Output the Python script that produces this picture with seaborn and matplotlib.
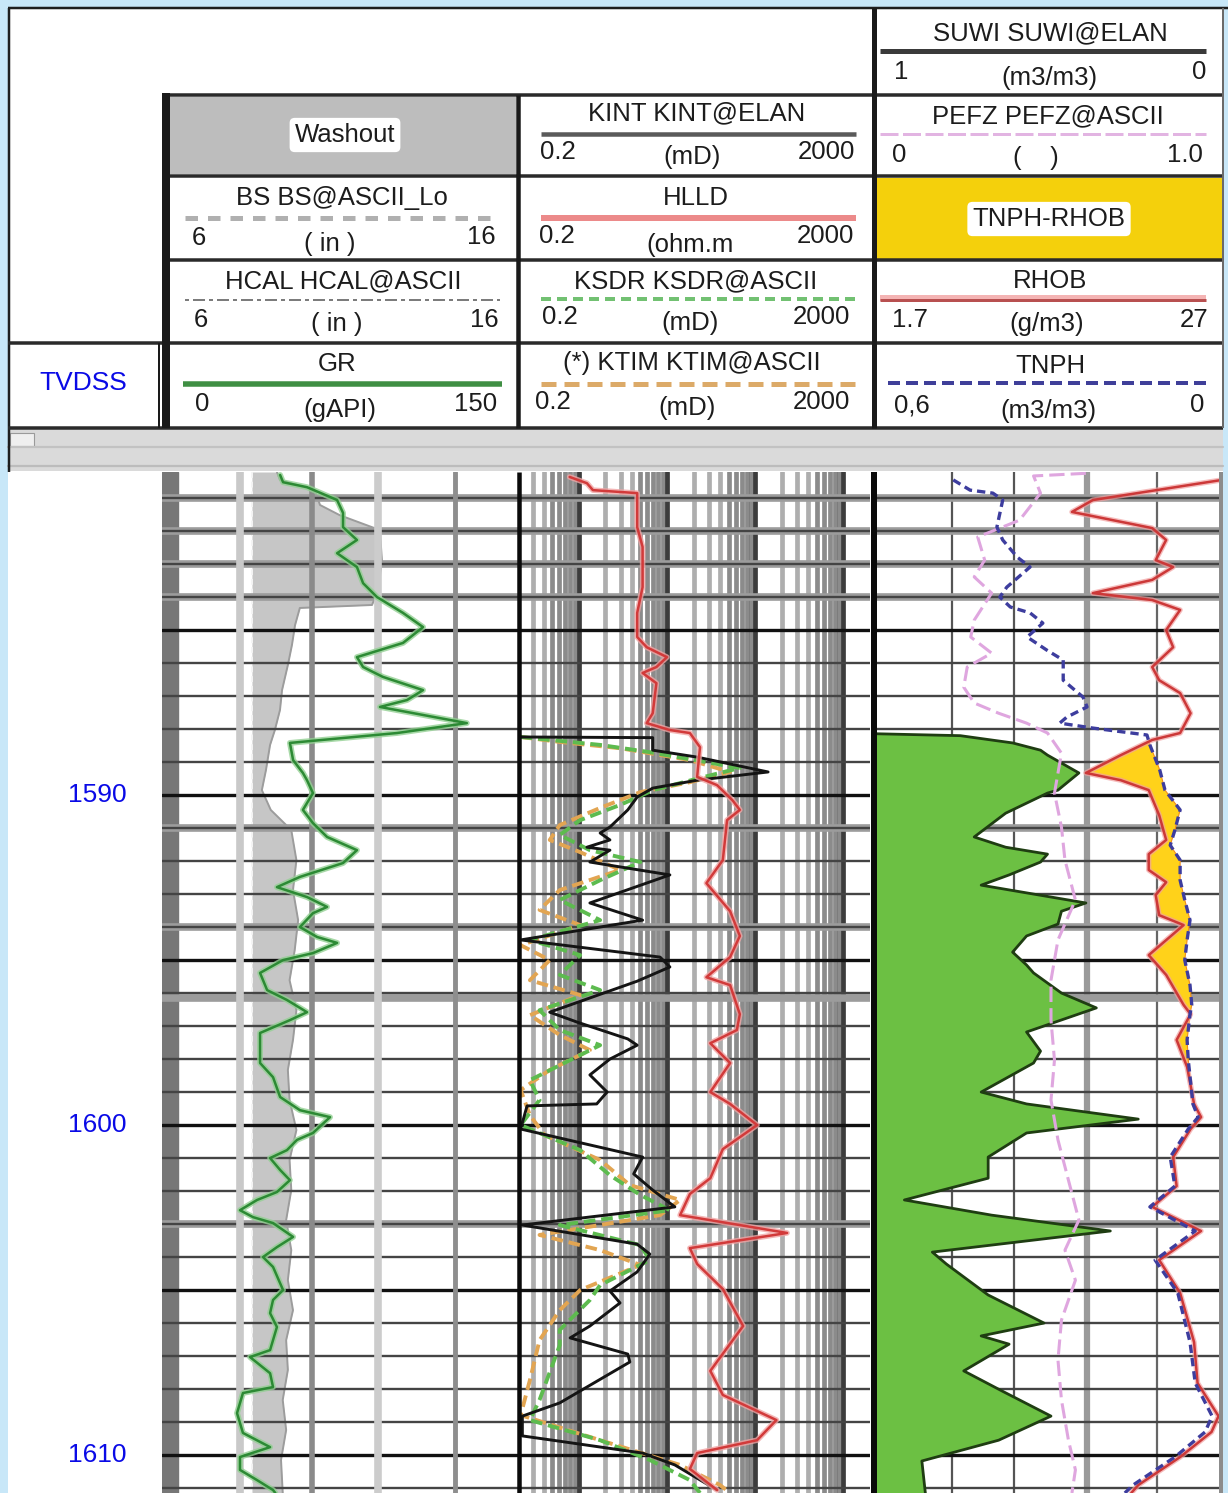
import numpy as np
import matplotlib
matplotlib.use("Agg")
import matplotlib.pyplot as plt
from matplotlib.patches import Rectangle
import seaborn as sns

sns.set_style("white")
plt.rcParams["font.family"] = ["Liberation Sans", "DejaVu Sans"]

# ---------------------------------------------------------------- data
TOP_DEPTH, BASE_DEPTH = 1580.21, 1611.15
depth_labels = [1590, 1600, 1610]

# Track 1 : gamma ray (gAPI), caliper / bit size (in)
gr_depth = [1580.30, 1580.52, 1580.67, 1581.06, 1581.45, 1581.88, 1582.27, 1582.67, 1583.09, 1583.58,
            1584.00, 1584.48, 1584.91, 1585.39, 1585.82, 1586.12, 1586.42, 1586.82, 1587.12, 1587.33,
            1587.82, 1588.12, 1588.42, 1588.94, 1589.33, 1589.55, 1589.94, 1590.45, 1590.85, 1591.27,
            1591.67, 1592.06, 1592.48, 1592.79, 1593.09, 1593.39, 1593.58, 1594.00, 1594.30, 1594.48,
            1594.79, 1595.00, 1595.39, 1595.91, 1596.21, 1596.58, 1596.82, 1597.21, 1598.12, 1598.55,
            1599.15, 1599.55, 1599.76, 1600.24, 1600.45, 1600.76, 1601.00, 1601.36, 1601.67, 1602.03,
            1602.27, 1602.58, 1602.79, 1602.97, 1603.39, 1603.70, 1604.00, 1604.30, 1605.00, 1605.30,
            1605.70, 1606.12, 1606.82, 1607.03, 1607.52, 1607.94, 1608.12, 1608.73, 1609.33, 1609.76,
            1610.06, 1610.45, 1610.76, 1611.06, 1611.15]
gr_api = [46.1, 47.4, 57.9, 71.1, 73.7, 73.7, 79.8, 71.1, 79.8, 82.5,
          88.6, 100.0, 108.8, 100.0, 79.8, 82.5, 91.2, 108.8, 101.8, 89.9,
          128.0, 97.4, 50.4, 51.8, 56.1, 57.9, 60.5, 56.1, 60.5, 66.7,
          79.8, 73.7, 54.8, 44.7, 57.9, 66.7, 60.5, 54.8, 62.3, 71.1,
          60.5, 47.4, 37.3, 40.4, 49.1, 57.9, 50.4, 37.3, 37.3, 43.0,
          46.1, 54.8, 68.0, 60.5, 53.5, 49.1, 41.7, 46.1, 50.4, 44.7,
          36.0, 28.5, 34.2, 43.0, 51.8, 44.7, 38.6, 43.0, 47.4, 43.0,
          41.7, 44.7, 41.7, 32.9, 41.7, 43.0, 29.8, 27.2, 29.8, 41.7,
          28.5, 28.5, 36.0, 43.0, 44.0]

cal_depth = [1580.21, 1580.45, 1580.76, 1581.21, 1581.52, 1581.97, 1582.88, 1583.79, 1584.24, 1584.33,
             1584.85, 1585.45, 1586.06, 1586.82, 1587.42, 1588.03, 1588.48, 1589.24, 1589.85, 1590.45,
             1591.06, 1591.97, 1592.88, 1593.79, 1594.70, 1595.61, 1596.52, 1597.42, 1598.33, 1599.24,
             1600.15, 1601.06, 1601.97, 1602.88, 1603.79, 1604.70, 1605.61, 1606.52, 1607.42, 1608.33,
             1609.24, 1610.15, 1611.15]
hcal_in = [8.98, 9.07, 10.09, 10.24, 10.82, 11.99, 12.05, 11.94, 11.76, 9.65,
           9.51, 9.42, 9.30, 9.13, 9.07, 8.92, 8.78, 8.66, 8.54, 8.80,
           9.40, 9.55, 9.45, 9.60, 9.50, 9.35, 9.55, 9.45, 9.30, 9.35,
           9.55, 9.35, 9.40, 9.25, 9.40, 9.30, 9.45, 9.25, 9.30, 9.15,
           9.25, 9.10, 9.15]
bs_in = 8.25

# Track 2 : resistivity (ohm.m) and permeabilities (mD), log scale
hlld_depth = [1580.36, 1580.55, 1580.76, 1580.85, 1581.88, 1582.48, 1583.70, 1584.48, 1585.21, 1585.52,
              1585.82, 1586.12, 1586.30, 1586.61, 1587.52, 1587.82, 1588.03, 1588.12, 1588.55, 1589.45,
              1589.70, 1590.15, 1590.45, 1590.76, 1591.97, 1592.67, 1593.52, 1594.27, 1594.91, 1595.52,
              1595.76, 1596.64, 1597.12, 1597.52, 1598.12, 1599.00, 1599.36, 1600.00, 1600.73, 1601.61,
              1602.09, 1602.73, 1603.27, 1603.73, 1604.21, 1604.97, 1606.09, 1607.45, 1608.18, 1608.94,
              1609.55, 1609.94, 1610.42, 1611.06]
hlld_ohmm = [0.79, 1.24, 1.45, 4.6, 4.6, 5.3, 5.3, 4.6, 4.6, 5.9,
             10.0, 7.6, 5.3, 7.6, 6.9, 5.9, 10.8, 18.2, 23.7, 22.0,
             37.0, 55.0, 67.0, 48.0, 43.0, 28.0, 52.0, 67.0, 52.0, 28.0,
             52.0, 67.0, 62.0, 31.0, 52.0, 31.0, 52.0, 105.0, 43.0, 31.0,
             18.2, 14.1, 230.0, 18.2, 22.0, 43.0, 73.0, 31.0, 43.0, 174.0,
             105.0, 22.0, 18.2, 37.0]

kint_depth = [1588.24, 1588.26, 1588.64, 1588.85, 1589.30, 1589.55, 1589.79, 1590.06, 1590.45, 1590.97,
              1591.15, 1591.36, 1591.58, 1591.67, 1592.03, 1592.42, 1593.27, 1593.79, 1594.39, 1594.91,
              1595.21, 1595.64, 1596.58, 1596.88, 1597.39, 1597.58, 1598.00, 1598.48, 1599.00, 1599.36,
              1599.42, 1600.12, 1600.97, 1601.48, 1601.97, 1602.48, 1603.03, 1603.61, 1603.91, 1604.45,
              1605.03, 1605.39, 1606.09, 1606.45, 1606.94, 1607.18, 1608.42, 1608.82, 1609.42, 1609.94,
              1610.30, 1611.06]
kint_md = [0.22, 6.9, 6.9, 22.0, 140.0, 22.0, 6.9, 4.6, 3.6, 2.26,
           1.75, 2.26, 1.24, 2.26, 1.34, 10.8, 1.34, 5.3, 0.22, 8.35,
           10.8, 4.6, 0.47, 0.96, 3.6, 4.6, 2.26, 1.34, 2.1, 1.6,
           0.26, 0.22, 5.3, 4.2, 6.9, 12.3, 0.23, 4.6, 6.4, 4.6,
           2.26, 2.94, 1.34, 0.80, 3.6, 3.8, 0.61, 0.23, 0.23, 5.3,
           12.3, 37.0]

ksdr_depth = [1588.24, 1588.48, 1588.70, 1589.18, 1589.48, 1589.85, 1590.30, 1590.76, 1591.21, 1591.67,
              1592.03, 1592.58, 1593.18, 1593.79, 1594.39, 1594.85, 1595.45, 1595.91, 1596.52, 1597.12,
              1597.58, 1598.03, 1598.64, 1599.24, 1600.00, 1600.76, 1601.52, 1602.12, 1602.58, 1603.03,
              1603.64, 1604.09, 1604.85, 1605.30, 1606.21, 1606.67, 1608.33, 1608.94, 1609.55, 1610.15,
              1610.76, 1611.15]
ksdr_md = [0.22, 1.75, 6.4, 67.0, 23.7, 7.0, 2.94, 1.04, 0.61, 1.34,
           5.0, 1.75, 0.61, 1.75, 0.28, 1.04, 0.61, 1.75, 0.36, 0.61,
           1.75, 0.80, 0.28, 0.36, 0.22, 1.04, 2.26, 5.0, 10.8, 0.61,
           5.0, 6.4, 1.75, 1.34, 0.61, 0.61, 0.36, 0.28, 1.75, 6.4,
           18.2, 23.7]

ktim_depth = [1588.24, 1588.39, 1588.58, 1588.94, 1589.30, 1589.61, 1589.91, 1590.39, 1590.91, 1591.36,
              1591.73, 1592.27, 1592.88, 1593.48, 1593.94, 1594.55, 1595.00, 1595.61, 1596.06, 1596.67,
              1597.27, 1597.73, 1598.33, 1598.94, 1599.70, 1600.30, 1601.06, 1601.82, 1602.27, 1602.73,
              1603.33, 1603.79, 1604.24, 1605.00, 1605.61, 1606.52, 1607.73, 1608.79, 1609.55, 1610.30,
              1610.91, 1611.15]
ktim_md = [0.22, 0.61, 2.94, 18.2, 52.0, 18.2, 5.0, 1.75, 0.61, 0.47,
           1.04, 2.94, 0.61, 0.36, 1.04, 0.22, 0.47, 0.28, 1.04, 0.28,
           0.61, 1.34, 0.47, 0.22, 0.28, 0.41, 1.75, 3.8, 14.1, 8.35,
           0.36, 1.75, 5.0, 1.04, 0.61, 0.36, 0.28, 0.22, 1.75, 14.1,
           40.0, 52.0]

# Track 3 : water saturation, density, neutron, PEF
suwi_depth = [1588.14, 1588.20, 1588.42, 1588.64, 1588.79, 1589.33, 1589.85, 1589.94, 1590.55, 1591.27,
              1591.58, 1591.79, 1592.03, 1592.42, 1592.73, 1593.27, 1593.52, 1593.91, 1594.27, 1594.76,
              1595.15, 1595.39, 1596.00, 1596.45, 1597.18, 1597.76, 1598.12, 1599.00, 1599.36, 1599.82,
              1600.24, 1600.97, 1601.61, 1602.27, 1602.73, 1603.21, 1603.85, 1604.21, 1605.15, 1606.00,
              1606.39, 1606.64, 1607.45, 1608.06, 1608.82, 1609.55, 1610.18, 1611.15]
suwi_frac = [1.00, 0.75, 0.60, 0.52, 0.50, 0.41, 0.47, 0.50, 0.62, 0.71,
             0.62, 0.50, 0.52, 0.61, 0.69, 0.39, 0.46, 0.47, 0.56, 0.60,
             0.56, 0.54, 0.46, 0.36, 0.56, 0.52, 0.54, 0.69, 0.56, 0.24,
             0.56, 0.67, 0.67, 0.91, 0.66, 0.32, 0.83, 0.79, 0.67, 0.51,
             0.69, 0.61, 0.74, 0.63, 0.49, 0.64, 0.86, 0.85]

rhob_depth = [1580.45, 1581.06, 1581.42, 1581.91, 1582.27, 1582.88, 1583.09, 1583.48, 1583.88, 1584.09,
              1584.39, 1585.00, 1585.52, 1586.12, 1586.52, 1586.91, 1587.52, 1588.12, 1588.33, 1588.79,
              1589.33, 1589.55, 1589.85, 1590.61, 1591.36, 1591.79, 1592.27, 1592.64, 1593.03, 1593.64,
              1593.94, 1594.85, 1595.45, 1596.36, 1596.64, 1597.42, 1598.24, 1599.36, 1599.76, 1600.12,
              1600.97, 1601.85, 1602.48, 1603.21, 1604.09, 1605.09, 1606.58, 1607.82, 1608.82, 1609.30,
              1610.06, 1610.91, 1611.15]
rhob_gcc = [2.70, 2.33, 2.27, 2.50, 2.54, 2.51, 2.56, 2.50, 2.33, 2.50,
            2.58, 2.54, 2.56, 2.50, 2.52, 2.58, 2.61, 2.58, 2.50, 2.41,
            2.31, 2.41, 2.49, 2.52, 2.54, 2.49, 2.49, 2.54, 2.51, 2.52,
            2.59, 2.49, 2.54, 2.59, 2.61, 2.57, 2.60, 2.62, 2.64, 2.61,
            2.56, 2.57, 2.50, 2.64, 2.52, 2.58, 2.62, 2.63, 2.69, 2.67,
            2.58, 2.46, 2.44]

tnph_depth = [1580.45, 1580.76, 1580.85, 1581.06, 1581.88, 1582.27, 1582.79, 1583.09, 1583.70, 1584.00,
              1584.30, 1584.48, 1584.79, 1585.21, 1585.61, 1585.91, 1586.52, 1587.03, 1587.33, 1587.64,
              1587.82, 1587.97, 1588.18, 1588.48, 1589.24, 1589.85, 1590.45, 1591.06, 1591.52, 1591.97,
              1592.58, 1593.18, 1593.79, 1594.39, 1595.00, 1595.76, 1596.36, 1596.64, 1597.42, 1598.03,
              1599.36, 1599.76, 1600.12, 1600.97, 1601.85, 1602.48, 1603.21, 1604.09, 1605.09, 1606.58,
              1607.82, 1608.82, 1609.30, 1610.06, 1610.91, 1611.15]
tnph_v = [0.462, 0.433, 0.394, 0.377, 0.387, 0.377, 0.352, 0.330, 0.370, 0.382,
          0.364, 0.330, 0.308, 0.335, 0.301, 0.273, 0.273, 0.239, 0.232, 0.267,
          0.279, 0.222, 0.129, 0.124, 0.107, 0.098, 0.072, 0.081, 0.089, 0.072,
          0.072, 0.064, 0.055, 0.060, 0.064, 0.055, 0.052, 0.055, 0.060, 0.058,
          0.050, 0.041, 0.058, 0.089, 0.081, 0.124, 0.046, 0.115, 0.076, 0.055,
          0.046, 0.017, 0.029, 0.081, 0.153, 0.167]

pefz_depth = [1580.25, 1580.33, 1580.85, 1581.67, 1582.18, 1582.88, 1583.39, 1583.88, 1584.70, 1585.21,
              1585.70, 1586.12, 1586.73, 1587.21, 1587.52, 1587.82, 1588.12, 1588.73, 1589.94, 1590.97,
              1591.97, 1593.18, 1594.39, 1595.61, 1596.82, 1598.03, 1599.24, 1600.45, 1601.67, 1602.88,
              1603.79, 1604.70, 1605.91, 1607.12, 1608.33, 1609.55, 1610.45, 1611.15]
pefz_v = [0.61, 0.46, 0.48, 0.42, 0.30, 0.32, 0.29, 0.34, 0.29, 0.28,
          0.34, 0.27, 0.26, 0.29, 0.36, 0.44, 0.50, 0.54, 0.52, 0.54,
          0.55, 0.58, 0.53, 0.51, 0.51, 0.52, 0.51, 0.53, 0.56, 0.59,
          0.55, 0.58, 0.54, 0.53, 0.54, 0.56, 0.58, 0.57]

# scales
GR_RANGE = (0, 150)
CAL_RANGE = (6, 16)
PERM_RANGE = (0.2, 2000)
SUWI_RANGE = (1, 0)
RHOB_RANGE = (1.7, 2.7)
TNPH_RANGE = (0.6, 0)
PEFZ_RANGE = (0, 1.0)

# ---------------------------------------------------------------- figure
W, H = 1228, 1493
fig = plt.figure(figsize=(W / 100, H / 100), dpi=100)
fig.patch.set_facecolor("#c8e7f8")


def px_axes(x0, y0, x1, y1, z):
    ax = fig.add_axes([x0 / W, 1 - y1 / H, (x1 - x0) / W, (y1 - y0) / H])
    ax.set_zorder(z)
    return ax


bg = px_axes(0, 0, W, H, 0)
bg.set_xlim(0, W)
bg.set_ylim(H, 0)
bg.set_axis_off()

fg = px_axes(0, 0, W, H, 20)
fg.set_xlim(0, W)
fg.set_ylim(H, 0)
fg.set_axis_off()

BODY_TOP = 472


def finish(ax, xlim, log=False):
    if log:
        ax.set_xscale("log")
    ax.set_xlim(*xlim)
    ax.set_ylim(BASE_DEPTH, TOP_DEPTH)
    ax.set_axis_off()


def trace(ax, values, depths, color, lw, z=3, **kw):
    sns.lineplot(x=values, y=depths, ax=ax, orient="y", sort=False,
                 estimator=None, color=color, linewidth=lw, zorder=z,
                 legend=False, **kw)


HEAVY_DEPTHS = [1581, 1582, 1583, 1584, 1591, 1594, 1596.15, 1603]


def depth_grid(ax):
    for d in HEAVY_DEPTHS:
        ax.axhline(d, color="#9c9c9c", lw=5.5, zorder=1.1)
    for d in range(1581, 1612):
        if d % 5 == 0:
            ax.axhline(d, color="#111111", lw=2.4, zorder=1.5)
        else:
            ax.axhline(d, color="#444444", lw=1.7, zorder=1.4)


# ---------------------------------------------------------------- background panels
bg.add_patch(Rectangle((8, 7), 1215, 1486, fc="white", ec="none"))
bg.add_patch(Rectangle((170, 97), 346, 77, fc="#bdbdbd", ec="none"))
bg.add_patch(Rectangle((876, 178), 347, 81, fc="#f4d00c", ec="none"))
# separator strip between header and log body
bg.add_patch(Rectangle((8, 429), 1215, 42, fc="#dadada", ec="none"))
bg.plot([8, 1223], [447, 447], color="#c2c2c2", lw=1.6)
bg.plot([8, 1223], [466, 466], color="#bcbcbc", lw=1.6)
bg.add_patch(Rectangle((10, 433), 24, 13, fc="#efefef", ec="#9a9a9a", lw=0.8))

# ---------------------------------------------------------------- depth column
axd = px_axes(8, BODY_TOP, 160, H, 2)
finish(axd, (0, 1))
for d in depth_labels:
    axd.text(0.585, d, str(d), ha="center", va="center", color="#0a0ae6",
             fontsize=19, transform=axd.get_yaxis_transform())

# ---------------------------------------------------------------- track 1
t1c = px_axes(175, BODY_TOP, 517, H, 2)
t1c.fill_betweenx(cal_depth, bs_in, hcal_in, where=np.array(hcal_in) > bs_in,
                  color="#c6c6c6", lw=0, zorder=2)
trace(t1c, hcal_in, cal_depth, "#9c9c9c", 1.4, z=2.5)
trace(t1c, [bs_in, bs_in], [TOP_DEPTH, BASE_DEPTH], "#f4f4f4", 1.4, z=2.6,
      linestyle=(0, (3, 2)))
finish(t1c, CAL_RANGE)

t1g = px_axes(162, BODY_TOP, 517, H, 2.2)
t1g.axvspan(0, 16 / 355, color="#777777", zorder=1)
depth_grid(t1g)
finish(t1g, (0, 1))

t1 = px_axes(175, BODY_TOP, 517, H, 2.5)
for v, c, w in [(28.5, "#c9c9c9", 5.5), (60.1, "#8a8a8a", 4.0),
                (89.0, "#cccccc", 5.5), (122.6, "#8e8e8e", 3.5)]:
    t1.axvline(v, color=c, lw=w, zorder=1)
trace(t1, gr_api, gr_depth, "#93d093", 4.2, z=3, alpha=0.8)
trace(t1, gr_api, gr_depth, "#2c8a34", 1.8, z=3.2)
finish(t1, GR_RANGE)

# ---------------------------------------------------------------- track 2
t2 = px_axes(517, BODY_TOP, 870, H, 3)
t2.set_xscale("log")
for dec in [0.1, 1, 10, 100, 1000]:
    for k in range(1, 10):
        v = dec * k
        if PERM_RANGE[0] < v < PERM_RANGE[1]:
            if k == 1:
                t2.axvline(v, color="#3c3c3c", lw=3.4, zorder=1)
            else:
                shade = "#9a9a9a" if k < 5 else "#6e6e6e"
                t2.axvline(v, color=shade, lw=3.4, alpha=0.8, zorder=1)
depth_grid(t2)
trace(t2, ktim_md, ktim_depth, "#e2a552", 2.8, z=3, linestyle=(0, (3, 1.5)))
trace(t2, ksdr_md, ksdr_depth, "#5dbb4f", 2.8, z=3.1, linestyle=(0, (3, 1.5)))
trace(t2, kint_md, kint_depth, "#141414", 2.1, z=3.3)
trace(t2, hlld_ohmm, hlld_depth, "#f0a4a4", 4.0, z=3.4, alpha=0.8)
trace(t2, hlld_ohmm, hlld_depth, "#d23a3a", 1.8, z=3.5)
finish(t2, PERM_RANGE, log=True)

# ---------------------------------------------------------------- track 3
t3g = px_axes(873, BODY_TOP, 1222, H, 3)
for v, c, w in [(0.226, "#555555", 1.6), (0.404, "#555555", 1.6),
                (0.613, "#9a9a9a", 4.5), (0.814, "#666666", 1.6)]:
    t3g.axvline(v, color=c, lw=w, zorder=1)
depth_grid(t3g)
finish(t3g, PEFZ_RANGE)

t3s = px_axes(873, BODY_TOP, 1222, H, 4)
t3s.fill_betweenx(suwi_depth, 1.0, suwi_frac, color="#6cc043", lw=0, zorder=2)
trace(t3s, suwi_frac, suwi_depth, "#1f3d12", 2.0, z=3)
finish(t3s, SUWI_RANGE)

t3r = px_axes(873, BODY_TOP, 1222, H, 5)
dgrid = np.linspace(TOP_DEPTH, BASE_DEPTH, 3000)
rho_i = np.interp(dgrid, rhob_depth, rhob_gcc, left=np.nan, right=np.nan)
nph_i = np.interp(dgrid, tnph_depth, tnph_v, left=np.nan, right=np.nan)
# neutron expressed on the density scale (0.6 -> 1.7, 0 -> 2.7)
nph_on_rho = RHOB_RANGE[0] + (TNPH_RANGE[0] - nph_i) / (TNPH_RANGE[0] - TNPH_RANGE[1]) * (RHOB_RANGE[1] - RHOB_RANGE[0])
t3r.fill_betweenx(dgrid, rho_i, nph_on_rho, where=nph_on_rho > rho_i,
                  color="#ffd21a", ec="#f08a1c", lw=0.8, zorder=2)
trace(t3r, rhob_gcc, rhob_depth, "#f2a0a0", 3.8, z=3, alpha=0.7)
trace(t3r, rhob_gcc, rhob_depth, "#cc3838", 1.8, z=3.2)
finish(t3r, RHOB_RANGE)

t3p = px_axes(873, BODY_TOP, 1222, H, 6)
trace(t3p, pefz_v, pefz_depth, "#dfa6df", 2.2, z=3, linestyle=(0, (5, 2)))
finish(t3p, PEFZ_RANGE)

t3n = px_axes(873, BODY_TOP, 1222, H, 7)
trace(t3n, tnph_v, tnph_depth, "#3d3d9e", 2.4, z=3, linestyle=(0, (2.5, 1.5)))
finish(t3n, TNPH_RANGE)

# ---------------------------------------------------------------- frame lines


def hl(y, x0, x1, px, color="#2a2a2a"):
    fg.plot([x0, x1], [y, y], color=color, lw=px * 0.72, solid_capstyle="butt")


def vl(x, y0, y1, px, color="#1a1a1a"):
    fg.plot([x, x], [y0, y1], color=color, lw=px * 0.72, solid_capstyle="butt")


hl(8, 8, 1228, 2.5, "#1e1e1e")
vl(8.5, 8, 472, 2.5, "#1e1e1e")
hl(95, 162, 1223, 3.5)
hl(176, 162, 1223, 3.5)
hl(260, 162, 1223, 3.5)
hl(343, 8, 1223, 3.5)
hl(428, 8, 1223, 3.5)
vl(166, 93, 428, 8)
vl(159, 343, 428, 2)
vl(518, 95, 428, 4.5)
vl(873.5, 8, 428, 5)
vl(1222.5, 8, 428, 2, "#6a6a6a")
vl(518.5, BODY_TOP, H, 4.5, "#0a0a0a")
vl(873.5, BODY_TOP, H, 6, "#0a0a0a")
vl(1221, BODY_TOP, H, 4, "#8c8c8c")

# ---------------------------------------------------------------- header legends
FS = 18.5
TXT = "#1c1c1c"


def label(x, y, s, size=FS, color=TXT, box=False):
    kw = {}
    if box:
        kw["bbox"] = dict(boxstyle="round,pad=0.2", fc="white", ec="none")
    bg.text(x, y, s, ha="center", va="center", fontsize=size, color=color, **kw)


def sample(x0, x1, y, color, px, dash=None):
    ls = "-" if dash is None else (0, dash)
    bg.plot([x0, x1], [y, y], color=color, lw=px * 0.72, linestyle=ls,
            solid_capstyle="butt", dash_capstyle="butt")


# track 1
label(345, 135, "Washout", box=True)
label(342, 198, "BS BS@ASCII_Lo")
sample(185, 500, 218, "#b0b0b0", 5, (2.5, 2))
label(199, 238, "6"); label(330, 244, "( in )"); label(481, 237, "16")
label(343, 281, "HCAL HCAL@ASCII")
sample(185, 500, 300, "#7c7c7c", 2, (2, 2, 6, 2))
label(201, 320, "6"); label(337, 324, "( in )"); label(484, 320, "16")
label(337, 364, "GR")
sample(183, 502, 384, "#3f8f43", 5.5)
label(202, 404, "0"); label(340, 410, "(gAPI)"); label(476, 404, "150")

# track 2
label(697, 113, "KINT KINT@ELAN")
sample(541, 856, 134, "#5a5a5a", 4.5)
label(558, 152, "0.2"); label(692, 157, "(mD)"); label(826, 152, "2000")
label(696, 198, "HLLD")
sample(541, 856, 218, "#ec8a8a", 6)
label(557, 236, "0.2"); label(690, 245, "(ohm.m"); label(825, 236, "2000")
label(696, 281, "KSDR KSDR@ASCII")
sample(541, 856, 299, "#72c172", 4, (2.5, 1.5))
label(560, 317, "0.2"); label(690, 323, "(mD)"); label(821, 317, "2000")
label(692, 363, "(*) KTIM KTIM@ASCII")
sample(541, 856, 384, "#dcaa68", 5, (3, 1.6))
label(553, 402, "0.2"); label(687, 408, "(mD)"); label(821, 402, "2000")

# track 3
label(1050, 33, "SUWI SUWI@ELAN")
sample(880, 1206, 51, "#3a3a3a", 5)
label(901, 72, "1"); label(1049, 78, "(m3/m3)"); label(1199, 72, "0")
label(1048, 116, "PEFZ PEFZ@ASCII")
sample(880, 1206, 134, "#e2b4e2", 3, (6, 1.5))
label(899, 155, "0"); label(1036, 158, "(    )"); label(1185, 155, "1.0")
label(1049, 219, "TNPH-RHOB", box=True)
label(1050, 281, "RHOB")
sample(880, 1206, 298, "#f4b4b4", 6)
sample(880, 1206, 300, "#b85050", 3)
label(910, 320, "1.7"); label(1047, 324, "(g/m3)"); label(1194, 320, "27")
label(1050, 366, "TNPH")
sample(888, 1206, 383, "#3f3f99", 4, (3, 1.5))
label(912, 405, "0,6"); label(1048, 411, "(m3/m3)"); label(1197, 405, "0")

label(83, 383, "TVDSS", size=19, color="#0a0ae6")

fig.savefig("out.png", dpi=100, facecolor=fig.get_facecolor())
